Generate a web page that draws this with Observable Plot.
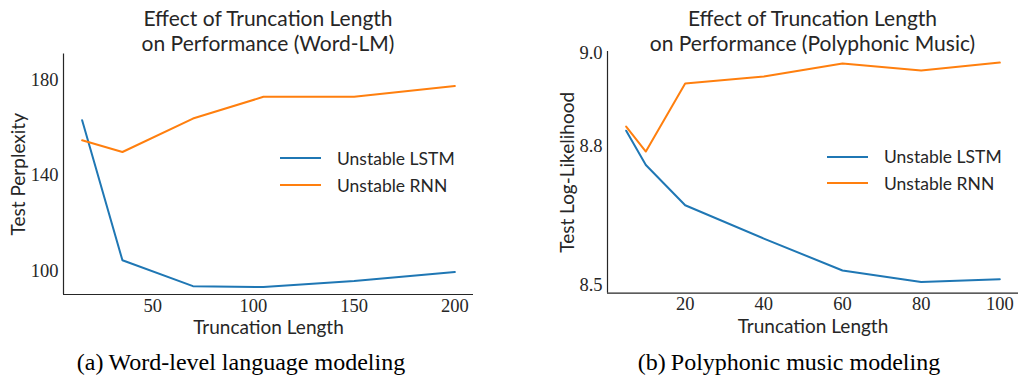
<!DOCTYPE html>
<html>
<head>
<meta charset="utf-8">
<script src="https://cdn.jsdelivr.net/npm/d3@7"></script>
<script src="https://cdn.jsdelivr.net/npm/@observablehq/plot@0.6"></script>
<style>
  body { margin: 0; background: #fff; }
  #fig { position: relative; width: 1021px; height: 377px; overflow: hidden; background: #fff; }
  .panel { position: absolute; top: 0; }
  .title { position: absolute; text-align: center; font-family: Lato, sans-serif; font-size: 21px; line-height: 25px; color: #262626; white-space: nowrap; }
  .caption { position: absolute; text-align: center; font-family: "Liberation Serif", serif; font-size: 24px; line-height: 26px; color: #000; white-space: nowrap; }
  .caption .tag { margin-right: 5px; }
  .legend { position: absolute; font-family: Lato, sans-serif; font-size: 17.5px; color: #262626; }
  .legend .row { display: flex; align-items: center; height: 26.7px; white-space: nowrap; }
  .legend .sw { width: 41px; height: 2px; margin-right: 16px; }
  svg g[aria-label$="tick label"] { font-family: "Liberation Serif", serif; font-size: 18.5px; }
  svg g[aria-label$="axis label"] { font-family: Lato, sans-serif; font-size: 19px; }
</style>
</head>
<body>
<div id="fig"></div>
<script>
// ---------------- data ----------------
const seriesNames = ["Unstable LSTM", "Unstable RNN"];
const seriesColors = ["#1f77b4", "#ff7f0e"];

// (a) Word-level language modeling
const wordLengths = [15, 35, 70, 105, 150, 200];
const wordLSTM = [163.1, 104.5, 93.7, 93.3, 95.8, 99.6];
const wordRNN = [154.7, 149.8, 163.8, 172.9, 172.9, 177.4];
const wordXTicks = [50, 100, 150, 200];
const wordYTicks = [100, 140, 180];

// (b) Polyphonic music modeling
const musicLengths = [5, 10, 20, 40, 60, 80, 100];
const musicLSTM = [8.833, 8.759, 8.672, 8.600, 8.531, 8.506, 8.512];
const musicRNN = [8.842, 8.788, 8.935, 8.950, 8.978, 8.963, 8.980];
const musicXTicks = [20, 40, 60, 80, 100];
const musicYTicks = [8.5, 8.8, 9.0];

const panelTitles = [
  ["Effect of Truncation Length", "on Performance (Word-LM)"],
  ["Effect of Truncation Length", "on Performance (Polyphonic Music)"]
];
const captionTags = ["(a)", "(b)"];
const captionTexts = ["Word-level language modeling", "Polyphonic music modeling"];
const xLabel = "Truncation Length";
const yLabels = ["Test Perplexity", "Test Log-Likelihood"];

// ---------------- helpers ----------------
function toRows(lengths, a, b) {
  const rows = [];
  lengths.forEach((L, i) => rows.push({len: L, value: a[i], series: seriesNames[0]}));
  lengths.forEach((L, i) => rows.push({len: L, value: b[i], series: seriesNames[1]}));
  return rows;
}

const fig = document.getElementById("fig");
const axisColor = "#262626";

function makePanel(cfg) {
  const rows = toRows(cfg.lengths, cfg.a, cfg.b);
  const chart = Plot.plot({
    width: cfg.width, height: 340,
    marginLeft: cfg.ml, marginRight: cfg.mr, marginTop: cfg.mt, marginBottom: cfg.mb,
    style: {background: "transparent", color: axisColor, overflow: "visible"},
    x: {domain: cfg.xDomain},
    y: {domain: cfg.yDomain},
    color: {domain: seriesNames, range: seriesColors},
    marks: [
      Plot.ruleX([cfg.xDomain[0]], {stroke: axisColor, strokeWidth: 1.2}),
      Plot.ruleY([cfg.yDomain[0]], {stroke: axisColor, strokeWidth: 1.2}),
      Plot.axisX({ticks: cfg.xTicks, tickSize: 0, tickPadding: 4, label: xLabel, labelAnchor: "center", labelArrow: "none", labelOffset: 39.5}),
      Plot.axisY({ticks: cfg.yTicks, tickSize: 0, tickPadding: 5, tickFormat: cfg.yFormat, label: cfg.yLabel, labelAnchor: "center", labelArrow: "none", labelOffset: cfg.ylo}),
      Plot.line(rows, {x: "len", y: "value", stroke: "series", z: "series", strokeWidth: 2})
    ]
  });
  const wrap = document.createElement("div");
  wrap.className = "panel";
  wrap.style.left = cfg.left + "px";
  wrap.appendChild(chart);
  fig.appendChild(wrap);

  const frameLeft = cfg.left + cfg.ml;
  const frameW = cfg.width - cfg.ml - cfg.mr;
  const t = document.createElement("div");
  t.className = "title";
  t.style.left = (frameLeft - 40) + "px";
  t.style.width = (frameW + 80) + "px";
  t.style.top = "4.5px";
  t.innerHTML = cfg.title.map(s => `<div>${s}</div>`).join("");
  fig.appendChild(t);

  const lg = document.createElement("div");
  lg.className = "legend";
  lg.style.left = cfg.legLeft + "px";
  lg.style.top = cfg.legTop + "px";
  lg.innerHTML = seriesNames.map((n, i) =>
    `<div class="row"><div class="sw" style="background:${seriesColors[i]}"></div><span>${n}</span></div>`).join("");
  fig.appendChild(lg);

  const c = document.createElement("div");
  c.className = "caption";
  c.style.left = (cfg.capCenter - 250) + "px";
  c.style.width = "500px";
  c.style.top = "349px";
  c.innerHTML = `<span class="tag">${cfg.tag}</span>${cfg.caption}`;
  fig.appendChild(c);
}

makePanel({
  left: 0, width: 490, ml: 63, mr: 17, mt: 53.5, mb: 46,
  lengths: wordLengths, a: wordLSTM, b: wordRNN,
  xDomain: [5.75, 209.25], yDomain: [90.2, 190.8],
  xTicks: wordXTicks, yTicks: wordYTicks, yFormat: d3.format("d"),
  yLabel: yLabels[0], ylo: 52,
  title: panelTitles[0],
  legLeft: 280, legTop: 145,
  tag: captionTags[0], caption: captionTexts[0], capCenter: 241
});

makePanel({
  left: 520, width: 501, ml: 87, mr: 3, mt: 51, mb: 47.3,
  lengths: musicLengths, a: musicLSTM, b: musicRNN,
  xDomain: [0.25, 104.75], yDomain: [8.482, 9.004],
  xTicks: musicXTicks, yTicks: musicYTicks, yFormat: d3.format(".1f"),
  yLabel: yLabels[1], ylo: 47,
  title: panelTitles[1],
  legLeft: 827, legTop: 143.3,
  tag: captionTags[1], caption: captionTexts[1], capCenter: 789
});
</script>
</body>
</html>
